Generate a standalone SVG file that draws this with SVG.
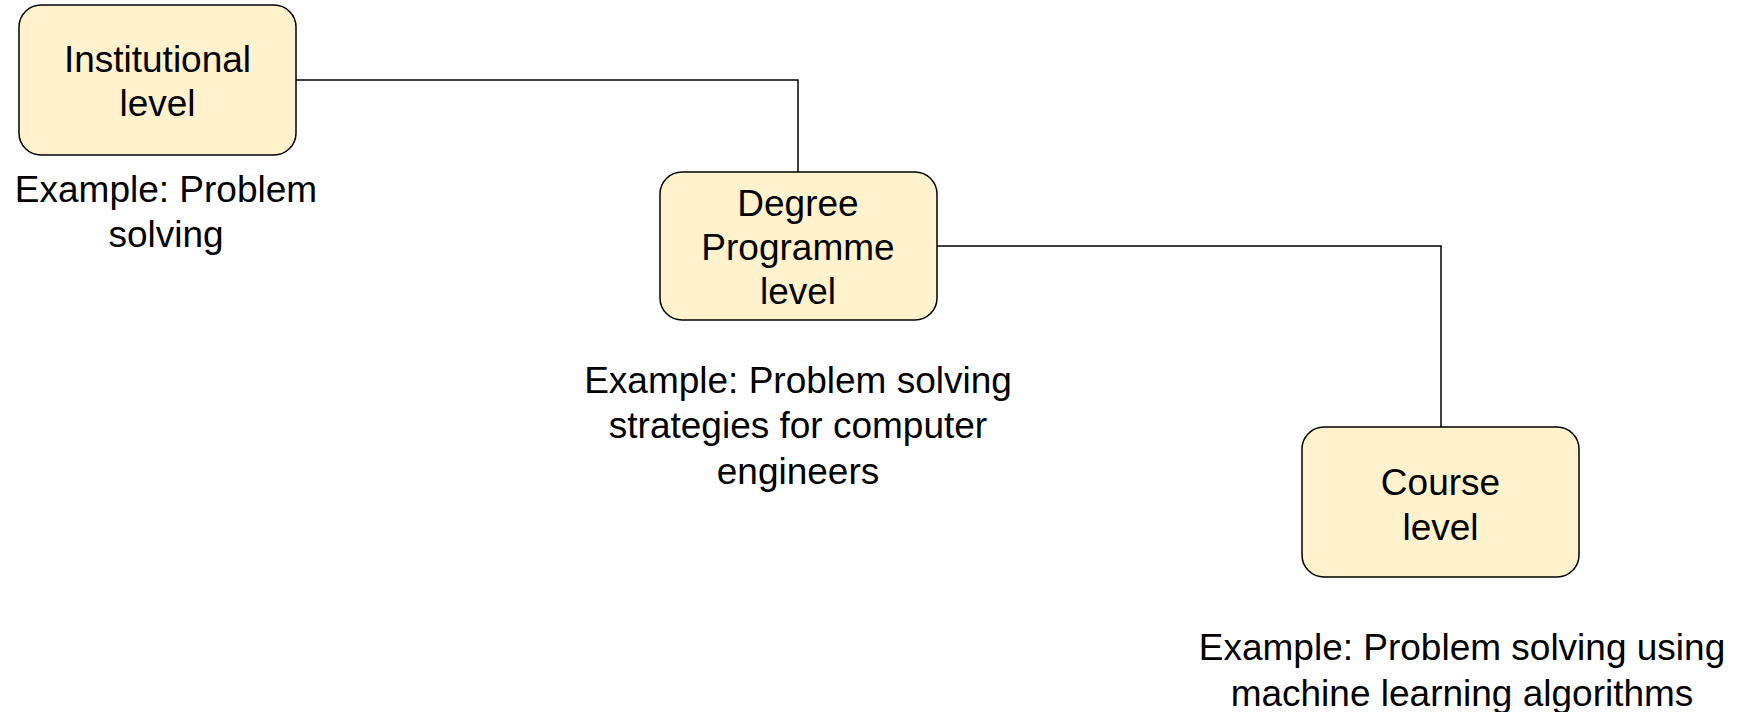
<svg xmlns="http://www.w3.org/2000/svg" width="1745" height="712" viewBox="0 0 1745 712">
<style>
.box{fill:#fff2cc;stroke:#000;stroke-width:1.5}
.t{font-family:"Liberation Sans",Arial,sans-serif;font-size:37px;fill:#000;text-anchor:middle}
.c{fill:none;stroke:#000;stroke-width:1.5}
</style>
<rect width="1745" height="712" fill="#fff"/>
<g id="connectors">
<path class="c" d="M296,80 H798 V172"/>
<path class="c" d="M937,246 H1441 V427"/>
</g>
<g id="institutional">
<rect class="box" x="19" y="5" width="277" height="150" rx="22" ry="22"/>
<text class="t" x="157.5" y="72">Institutional</text>
<text class="t" x="157.5" y="116">level</text>
</g>
<g id="institutional-example">
<text class="t" x="166" y="202">Example: Problem</text>
<text class="t" x="166" y="247">solving</text>
</g>
<g id="degree">
<rect class="box" x="660" y="172" width="277" height="148" rx="22" ry="22"/>
<text class="t" x="798" y="216">Degree</text>
<text class="t" x="798" y="260">Programme</text>
<text class="t" x="798" y="304">level</text>
</g>
<g id="degree-example">
<text class="t" x="798" y="393">Example: Problem solving</text>
<text class="t" x="798" y="438">strategies for computer</text>
<text class="t" x="798" y="484">engineers</text>
</g>
<g id="course">
<rect class="box" x="1302" y="427" width="277" height="150" rx="22" ry="22"/>
<text class="t" x="1440.5" y="495">Course</text>
<text class="t" x="1440.5" y="540">level</text>
</g>
<g id="course-example">
<text class="t" x="1462" y="660">Example: Problem solving using</text>
<text class="t" x="1462" y="706">machine learning algorithms</text>
</g>
</svg>
